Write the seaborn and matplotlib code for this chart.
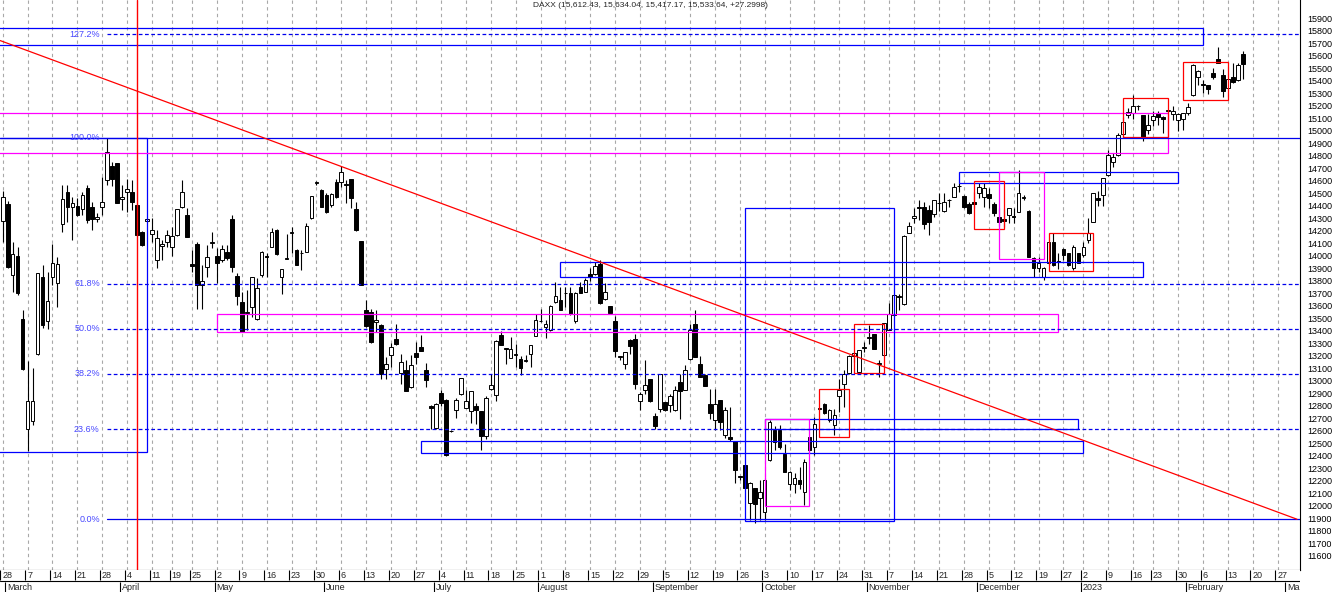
import numpy as np
import pandas as pd
import matplotlib
matplotlib.use("Agg")
import matplotlib.pyplot as plt
from matplotlib.patches import Rectangle
from matplotlib.ticker import MultipleLocator
import seaborn as sns

# DAXX daily candles, 28 Feb 2022 .. 16 Feb 2023
opens = [
    # Feb 28 + March
    14280, 14413, 13842, 13997, 13493, 12613, 12677, 13213, 13832, 13480, 13832, 13778,
    14250, 14512, 14386, 14397, 14370, 14544, 14386, 14290, 14386, 14605, 14717, 14738,
    # April
    14455, 14512, 14512, 14405, 14192, 14280, 14173, 13965, 14080, 14112, 14072, 14165,
    14392, 14325, 13930, 14090, 13765, 13912, 14105,
    # May
    13997, 13965, 14032, 14290, 13837, 13632, 13540, 13592, 13498, 13845, 14000, 14072,
    14205, 13826, 13970, 14180, 14045, 14020, 14032, 14298, 14580, 14525,
    # June
    14485, 14405, 14592, 14592, 14570, 14610, 14370, 14117, 13565, 13552, 13470, 13445,
    13098, 13205, 13338, 13063, 13085, 12952, 13224, 13272, 13090, 12800,
    # July
    12626, 12906, 12850, 12595, 12765, 12893, 12786, 12760, 12797, 12760, 12557, 12938,
    12885, 13365, 13258, 13186, 13205, 13178, 13162, 13218, 13357,
    # August
    13475, 13427, 13405, 13632, 13645, 13700, 13703, 13480, 13752, 13712, 13853, 13853,
    13933, 13658, 13597, 13477, 13188, 13138, 13330, 13338, 12840, 12925, 13018,
    # September
    12717, 12778, 12832, 12805, 12770, 12992, 12930, 13178, 13453, 13138, 13045, 12813,
    12685, 12850, 12565, 12548, 12517, 12235, 12330, 12023, 12146, 12066,
    # October
    11952, 12365, 12605, 12605, 12413, 12173, 12173, 12210, 12112, 12552, 12472, 12775,
    12818, 12685, 12645, 12877, 12978, 13063, 13200, 13072, 13265,
    # November
    13345, 13378, 13135, 13205, 13410, 13525, 13675, 13613, 14183, 14298, 14390, 14392,
    14365, 14333, 14420, 14360, 14443, 14472, 14555, 14477, 14413, 14432,
    # December
    14503, 14472, 14493, 14413, 14312, 14290, 14325, 14315, 14352, 14460, 14360, 13978,
    13900, 13832, 13938, 14112, 13960, 14050, 14018, 13898, 14018,
    # January
    14005, 14125, 14272, 14458, 14485, 14645, 14752, 14805, 14973, 15125, 15145, 15195,
    15125, 15005, 15085, 15138, 15112, 15158, 15133, 15085, 15090,
    # February
    15138, 15285, 15426, 15375, 15365, 15458, 15570, 15445, 15338, 15426, 15405, 15612,
]
highs = [
    14517, 14440, 14112, 14072, 13565, 13160, 13106, 13863, 13925, 13872, 14090, 13992,
    14565, 14565, 14472, 14460, 14512, 14565, 14432, 14338, 14632, 14938, 14752, 14740,
    14565, 14610, 14605, 14410, 14195, 14298, 14298, 14205, 14125, 14205, 14232, 14370,
    14605, 14378, 14045, 14112, 13925, 14085, 14192,
    14058, 14085, 14085, 14325, 13864, 13712, 13725, 13832, 13818, 14040, 14023, 14218,
    14210, 13890, 14173, 14226, 14050, 14045, 14264, 14477, 14600, 14530,
    14498, 14504, 14610, 14717, 14605, 14610, 14432, 14120, 13650, 13578, 13570, 13458,
    13192, 13303, 13453, 13218, 13165, 13205, 13312, 13365, 13143, 12805,
    12823, 12925, 12858, 12610, 12866, 13026, 12930, 12920, 12824, 12760, 12877, 13058,
    13325, 13400, 13262, 13352, 13298, 13200, 13205, 13290, 13533,
    13578, 13490, 13605, 13792, 13752, 13752, 13752, 13712, 13792, 13818, 13898, 13952,
    13965, 13778, 13597, 13520, 13192, 13232, 13338, 13378, 12912, 13165, 13018,
    12743, 13058, 12832, 12898, 12957, 13058, 13130, 13453, 13570, 13197, 13058, 12938,
    12938, 12850, 12792, 12792, 12517, 12240, 12330, 12190, 12146, 12210,
    12226, 12690, 12637, 12645, 12498, 12280, 12264, 12312, 12378, 12552, 12712, 12780,
    12824, 12778, 12778, 13018, 13085, 13205, 13232, 13250, 13312,
    13445, 13378, 13165, 13463, 13623, 13698, 13693, 14165, 14272, 14378, 14445, 14432,
    14405, 14445, 14498, 14498, 14450, 14578, 14584, 14485, 14432, 14512,
    14578, 14578, 14538, 14432, 14378, 14370, 14378, 14378, 14685, 14485, 14365, 13992,
    13990, 13912, 14112, 14178, 14018, 14058, 14018, 14085, 14018,
    14112, 14298, 14498, 14520, 14618, 14845, 14818, 14978, 15112, 15178, 15285, 15205,
    15125, 15133, 15160, 15160, 15117, 15165, 15197, 15138, 15138,
    15224, 15533, 15485, 15405, 15365, 15498, 15672, 15490, 15410, 15538, 15538, 15634,
]
lows = [
    14112, 13900, 13712, 13685, 13085, 12440, 12650, 13205, 13420, 13418, 13765, 13592,
    14192, 14272, 14125, 14318, 14325, 14258, 14205, 14272, 14325, 14565, 14560, 14418,
    14365, 14352, 14365, 14158, 14080, 14270, 14112, 13898, 13965, 14072, 14000, 14157,
    14385, 14146, 13872, 13578, 13578, 13832, 14058,
    13778, 13950, 13965, 13872, 13605, 13392, 13405, 13512, 13485, 13832, 13832, 14066,
    14005, 13698, 13970, 14023, 13925, 13885, 14032, 14290, 14565, 14386,
    14344, 14392, 14458, 14552, 14418, 14378, 14200, 13765, 13432, 13303, 13392, 13018,
    13018, 13112, 13285, 12973, 12918, 12946, 13133, 13238, 12952, 12618,
    12618, 12797, 12397, 12590, 12706, 12885, 12780, 12664, 12658, 12445, 12538, 12925,
    12840, 13290, 13138, 13184, 13112, 13045, 13152, 13112, 13357,
    13470, 13346, 13400, 13624, 13570, 13592, 13525, 13464, 13703, 13712, 13800, 13845,
    13613, 13645, 13533, 13192, 13165, 13098, 13218, 12938, 12770, 12898, 12832,
    12618, 12752, 12760, 12752, 12760, 12698, 12925, 13170, 13192, 13032, 12957, 12698,
    12605, 12610, 12546, 12520, 12183, 12210, 12146, 11885, 11863, 11885,
    11890, 12355, 12445, 12458, 12272, 12125, 12103, 12138, 12005, 12424, 12405, 12770,
    12738, 12672, 12565, 12752, 12792, 13058, 13150, 13064, 13232,
    13298, 13258, 13032, 13197, 13405, 13517, 13565, 13605, 14183, 14258, 14285, 14210,
    14165, 14312, 14360, 14352, 14392, 14466, 14512, 14383, 14333, 14378,
    14458, 14392, 14378, 14317, 14237, 14232, 14258, 14258, 14352, 14445, 13986, 13832,
    13870, 13805, 13925, 13917, 13890, 13965, 13917, 13885, 13938,
    13992, 14098, 14272, 14397, 14397, 14637, 14706, 14797, 14952, 15098, 15090, 15165,
    14920, 14973, 15037, 15045, 14985, 15152, 15085, 14998, 15005,
    15125, 15277, 15365, 15298, 15293, 15410, 15538, 15266, 15338, 15378, 15400, 15417,
]
closes = [
    14472, 13912, 14010, 13703, 13095, 12837, 12837, 13858, 13445, 13637, 13938, 13930,
    14450, 14392, 14424, 14325, 14485, 14285, 14290, 14312, 14432, 14832, 14610, 14424,
    14470, 14533, 14432, 14165, 14085, 14290, 14205, 14138, 14090, 14165, 14157, 14370,
    14512, 14146, 13920, 13765, 13800, 13986, 14112,
    13944, 14050, 13978, 13912, 13680, 13392, 13552, 13832, 13746, 14032, 13990, 14192,
    14013, 13890, 13980, 14192, 13925, 14025, 14240, 14477, 14587, 14392,
    14352, 14490, 14472, 14672, 14565, 14458, 14205, 13765, 13437, 13312, 13485, 13058,
    13132, 13272, 13293, 13152, 12920, 13125, 13192, 13240, 13010, 12785,
    12818, 12823, 12405, 12600, 12850, 13026, 12839, 12920, 12765, 12557, 12866, 12965,
    13317, 13290, 13255, 13258, 13212, 13106, 13168, 13290, 13490,
    13482, 13458, 13597, 13677, 13570, 13706, 13533, 13703, 13703, 13805, 13826, 13917,
    13624, 13712, 13544, 13240, 13195, 13232, 13277, 12978, 12898, 12965, 12840,
    12637, 13058, 12765, 12877, 12925, 12920, 13090, 13405, 13192, 13032, 12957, 12743,
    12813, 12672, 12770, 12531, 12290, 12232, 12146, 12183, 12018, 12112,
    12210, 12672, 12512, 12472, 12272, 12272, 12226, 12178, 12352, 12445, 12653, 12778,
    12743, 12770, 12730, 12930, 13058, 13197, 13220, 13250, 13272,
    13352, 13258, 13138, 13463, 13538, 13690, 13672, 14157, 14237, 14317, 14383, 14253,
    14272, 14445, 14425, 14432, 14447, 14546, 14559, 14392, 14343, 14413,
    14546, 14538, 14458, 14343, 14272, 14280, 14378, 14310, 14503, 14468, 13992, 13898,
    13940, 13898, 14112, 13925, 13952, 14005, 13925, 14072, 13943,
    14072, 14178, 14498, 14442, 14618, 14805, 14792, 14965, 15072, 15152, 15197, 15199,
    14938, 15045, 15117, 15106, 15090, 15162, 15160, 15133, 15138,
    15192, 15525, 15480, 15368, 15330, 15426, 15544, 15320, 15410, 15392, 15525, 15534,
]

# days with no bar on this chart
missing_days = ["2022-04-15", "2022-04-18", "2022-12-26", "2023-01-18"]

title = "DAXX (15,612.43, 15,634.04, 15,417.17, 15,533.64, +27.2998)"

# fibonacci retracement drawn from the March high to the September low
fib_low, fib_high = 11893, 14942
fib_levels = [0.0, 0.236, 0.382, 0.5, 0.618, 1.0, 1.272]
fib_labels = ["0.0%", "23.6%", "38.2%", "50.0%", "61.8%", "100.0%", "127.2%"]
fib_start = 21

# falling trend line (bar index, price)
trend_x = [-0.54, 259.9]
trend_y = [15721, 11893]

marker_bar = 27  # red vertical line

# drawn boxes: first bar, last bar, low, high, colour
box_x0 = [-5, -5, -5, 112, 43, 84, 153, 149, 153, 164, 171, 192, 195, 200, 210, 225, 237]
box_x1 = [241, 29, 234, 229, 212, 217, 216, 179, 162, 170, 177, 236, 201, 209, 219, 234, 246]
box_lo = [15686, 12432, 14820, 13828, 13388, 12420, 12612, 11876, 11999, 12548, 13065,
          14584, 14212, 13972, 13876, 14952, 15243]
box_hi = [15819, 14942, 15139, 13948, 13532, 12519, 12692, 14380, 12692, 12932, 13453,
          14668, 14596, 14668, 14180, 15259, 15547]
box_col = ["blue", "blue", "magenta", "blue", "magenta", "blue", "blue", "blue", "magenta",
           "red", "red", "blue", "red", "magenta", "red", "red", "red"]

sns.set_theme(style="white")
plt.rcParams["font.family"] = ["Liberation Sans", "DejaVu Sans"]

# trading calendar (extends past the data so future weeks get a slot)
cal = pd.bdate_range("2022-02-28", "2023-03-03")
cal = cal[~cal.isin(pd.to_datetime(missing_days))]
df = pd.DataFrame({"date": cal[:len(opens)], "open": opens, "high": highs,
                   "low": lows, "close": closes})
df["i"] = np.arange(len(df))
cal_df = pd.DataFrame({"date": cal, "i": np.arange(len(cal))})
week_start = cal_df.groupby(cal_df.date.dt.to_period("W")).first()
month_start = cal_df.groupby(cal_df.date.dt.to_period("M")).first().iloc[1:]

W, H = 1336, 592
fig = plt.figure(figsize=(W / 100, H / 100), dpi=100)
ax = fig.add_axes([0, 22 / H, 1300 / W, 570 / H])
ax2 = fig.add_axes([0, 0, 1300 / W, 22 / H])

x_lo, x_hi = -0.54, 260.5
ax.set_xlim(x_lo, x_hi)
ax.set_ylim(11487, 16045)

# weekly grid
ax.vlines(week_start.i, 11487, 16045, colors="#a8a8a8", linestyles=(0, (3, 3)),
          linewidth=0.8, zorder=0)

# candles
up = df.close >= df.open
ax.vlines(df.i, df.low, df.high, colors="black", linewidth=0.8, zorder=2)
body = (df.close - df.open).abs().clip(lower=4)
ax.bar(df.i[up], body[up], bottom=df.open[up], width=0.74, color="white",
       edgecolor="black", linewidth=0.7, zorder=3)
ax.bar(df.i[~up], body[~up], bottom=df.close[~up], width=0.74, color="black",
       edgecolor="black", linewidth=0.7, zorder=3)

# boxes
for x0, x1, lo, hi, c in zip(box_x0, box_x1, box_lo, box_hi, box_col):
    ax.add_patch(Rectangle((x0, lo), x1 - x0, hi - lo, fill=False, edgecolor=c,
                           linewidth=0.9, zorder=4))

# fibonacci levels
rng = fib_high - fib_low
for lev, lab in zip(fib_levels, fib_labels):
    y = fib_low + lev * rng
    solid = lev in (0.0, 1.0)
    x_from = x_lo if lev == 1.0 else fib_start
    ax.plot([x_from, x_hi], [y, y], color="#0000ee", linewidth=0.9,
            linestyle="-" if solid else (0, (3, 2)), zorder=4)
    ax.text(fib_start - 1.5, y, lab, ha="right", va="center", fontsize=6.5,
            color="#4848ff", zorder=5)

# trend line and marker
ax.plot(trend_x, trend_y, color="#ff0000", linewidth=0.9, zorder=4)
ax.axvline(marker_bar, color="#ff0000", linewidth=1.0, zorder=5)

ax.text(0.5, 0.997, title, transform=ax.transAxes, ha="center", va="top", fontsize=6)

ax.set_xticks([])
ax.yaxis.tick_right()
ax.set_yticks(np.arange(11600, 16000, 100))
ax.set_yticklabels([str(v) for v in range(11600, 16000, 100)])
ax.yaxis.set_minor_locator(MultipleLocator(50))
ax.tick_params(axis="y", which="major", labelsize=6.5, length=3.2, width=0.8, pad=2,
               colors="black", right=True)
ax.tick_params(axis="y", which="minor", length=1.7, width=0.8, colors="black", right=True)
sns.despine(ax=ax, left=True, top=True, right=False, bottom=False)
for s in ("right", "bottom"):
    ax.spines[s].set_color("black")
    ax.spines[s].set_linewidth(0.8)

# date strip: week days on top row, months below
ax2.set_xlim(x_lo, x_hi)
ax2.set_ylim(0, 2)
ax2.set_xticks([])
ax2.set_yticks([])
for s in ax2.spines.values():
    s.set_visible(False)
ax2.axhline(1, color="black", linewidth=0.8)
for _, r in week_start.iterrows():
    ax2.vlines(r.i - 0.45, 1.05, 2, colors="black", linewidth=0.8)
    ax2.text(r.i - 0.1, 1.5, str(r.date.day), ha="left", va="center", fontsize=6.5,
             clip_on=True)
for _, r in month_start.iterrows():
    name = str(r.date.year) if r.date.month == 1 else r.date.strftime("%B")
    ax2.vlines(r.i - 0.45, 0, 0.95, colors="black", linewidth=0.8)
    ax2.text(r.i - 0.1, 0.45, name, ha="left", va="center", fontsize=6.5, clip_on=True)

fig.savefig("out.png", dpi=100, facecolor="white")
